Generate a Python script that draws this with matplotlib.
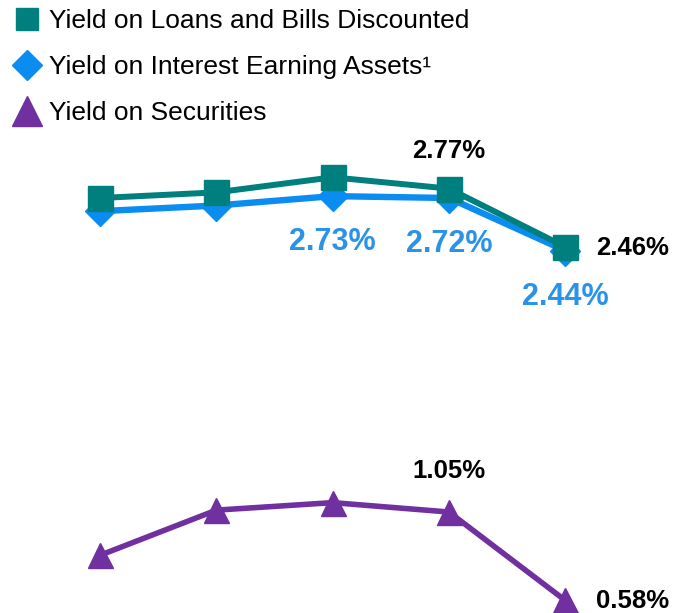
import matplotlib
matplotlib.use('Agg')
import matplotlib.pyplot as plt
from matplotlib.lines import Line2D
import numpy as np

plt.rcParams['font.family'] = ['Liberation Sans', 'DejaVu Sans']

# data (5 periods, %)
periods = ['P1', 'P2', 'P3', 'P4', 'P5']
loans_yield = [2.72, 2.75, 2.83, 2.77, 2.46]
assets_yield = [2.65, 2.68, 2.73, 2.72, 2.44]
securities_yield = [0.82, 1.06, 1.10, 1.05, 0.58]

series_names = ['Yield on Loans and Bills Discounted',
                'Yield on Interest Earning Assets\u00b9',
                'Yield on Securities']

TEAL = '#007F7F'
BLUE = '#0A8CF0'
BLUE_TXT = '#2A93E8'
PURPLE = '#7030A0'

fig = plt.figure(figsize=(6.74, 6.13), dpi=100)
ax = fig.add_axes([0, 0, 1, 1])
ax.axis('off')

x = np.arange(len(periods))

ax.plot(x, securities_yield, color=PURPLE, lw=4.0, marker='^', ms=18,
        zorder=2)
ax.plot(x, assets_yield, color=BLUE, lw=4.6, marker='D', ms=15,
        zorder=3)
ax.plot(x, loans_yield, color=TEAL, lw=4.3, marker='s', ms=18,
        zorder=4)

ax.set_xlim(-0.86, 4.935)
ax.set_ylim(0.513, 3.773)

# data labels
def label(i, vals, dx, dy, color, size, ha='center'):
    ax.annotate(f'{vals[i]:.2f}%', (x[i], vals[i]), xytext=(dx, dy),
                textcoords='offset pixels', ha=ha, va='center',
                fontsize=size, fontweight='bold', color=color, zorder=5)

label(3, loans_yield, 0, 38, 'black', 18.5)
label(4, loans_yield, 31, -1, 'black', 18.5, ha='left')
label(2, assets_yield, 0, -46, BLUE_TXT, 22)
label(3, assets_yield, 0, -46, BLUE_TXT, 22)
label(4, assets_yield, 0, -46, BLUE_TXT, 22)
label(3, securities_yield, 0, 41, 'black', 18.5)
label(4, securities_yield, 31, -1, 'black', 18.5, ha='left')

# legend (markers only)
handles = [
    Line2D([], [], ls='none', marker='s', ms=16, color=TEAL),
    Line2D([], [], ls='none', marker='D', ms=15, color=BLUE),
    Line2D([], [], ls='none', marker='^', ms=21, color=PURPLE),
]
fig.legend(handles, series_names, loc='upper left',
           bbox_to_anchor=(0.016, 0.989), frameon=False, fontsize=19,
           handlelength=1.0, handletextpad=0.35, labelspacing=0.83,
           borderaxespad=0.0, borderpad=0.1)

fig.savefig('out.png', dpi=100)
